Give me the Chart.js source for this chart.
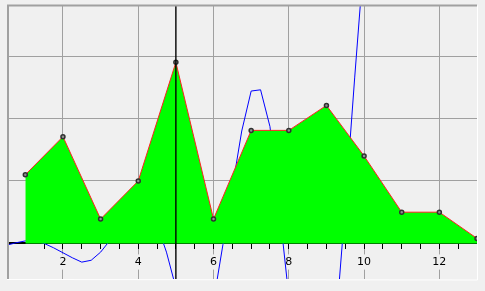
<!DOCTYPE html>
<html>
<head>
<meta charset="utf-8">
<script src="https://cdn.jsdelivr.net/npm/chart.js@4.4.0/dist/chart.umd.min.js"></script>
<style>
  html, body { margin: 0; padding: 0; background: #f0f0f0; }
</style>
</head>
<body>
<canvas id="mycanvas" width="485" height="291"></canvas>
<script>
// green series (one point per integer x)
var areaX = [1, 2, 3, 4, 5, 6, 7, 8, 9, 10, 11, 12, 13];
var areaY = [1.10, 1.71, 0.39, 1.0, 2.90, 0.39, 1.81, 1.81, 2.21, 1.40, 0.50, 0.50, 0.08];

// blue curve, every 0.25
var curveX = [0.5, 0.75, 1, 1.25, 1.5, 1.75, 2, 2.25, 2.5, 2.75, 3, 3.25, 3.5, 3.75, 4, 4.25, 4.5, 4.75,
              5, 5.25, 5.5, 5.75, 6, 6.25, 6.5, 6.75, 7, 7.25, 7.5, 7.75, 8, 8.25, 8.5, 8.75, 9, 9.25,
              9.5, 9.75, 10, 10.25];
var curveY = [-0.03, 0.01, 0.04, 0.04, 0.0, -0.07, -0.15, -0.23, -0.30, -0.27, -0.14, 0.05, 0.20, 0.32, 0.38, 0.35, 0.30, -0.14,
              -0.71, -1.3, -1.6, -1.5, -0.93, -0.02, 0.89, 1.80, 2.44, 2.46, 1.87, 0.55, -0.85, -2.0, -2.6, -2.8, -2.4, -1.3,
              0.6, 2.65, 4.6, 6.5];

// vertical cursor
var cursorX = 5;

var xTickLabels = [2, 4, 6, 8, 10, 12];
var yGridValues = [1, 2, 3];

function pts(xs, ys) {
  var out = [];
  for (var i in xs) {
    out.push({x: xs[i], y: ys[i]});
  }
  return out;
}

var frame = {
  id: 'frame',
  beforeDraw: function(chart) {
    var c = chart.ctx;
    c.save();
    c.fillStyle = '#f0f0f0';
    c.fillRect(0, 0, chart.width, chart.height);
    c.restore();
  },
  afterDraw: function(chart) {
    var c = chart.ctx, a = chart.chartArea;
    c.save();
    c.strokeStyle = '#ffffff';
    c.lineWidth = 1;
    c.beginPath();
    c.moveTo(a.right + 0.5, a.top);
    c.lineTo(a.right + 0.5, a.bottom + 1);
    c.lineTo(a.left - 1, a.bottom + 0.5);
    c.stroke();
    c.strokeStyle = '#a0a0a0';
    c.lineWidth = 2;
    c.beginPath();
    c.moveTo(a.left, a.bottom);
    c.lineTo(a.left, a.top);
    c.lineTo(a.right, a.top);
    c.stroke();
    c.restore();
  }
};

var ctx = document.getElementById('mycanvas');

var chart = new Chart(ctx, {
  type: 'line',
  data: {
    datasets: [
      {
        data: [{x: cursorX, y: -10}, {x: cursorX, y: 10}],
        borderColor: '#000000',
        borderWidth: 1.4,
        pointRadius: 0,
        fill: false
      },
      {
        data: pts(areaX, areaY),
        borderColor: '#ff2020',
        borderWidth: 1,
        backgroundColor: '#00ff00',
        fill: 'origin',
        tension: 0,
        pointRadius: 2,
        pointBorderWidth: 1.5,
        pointBorderColor: '#303030',
        pointBackgroundColor: '#909090'
      },
      {
        data: pts(curveX, curveY),
        borderColor: '#0000ff',
        borderWidth: 1,
        pointRadius: 0,
        fill: false,
        tension: 0
      }
    ]
  },
  options: {
    responsive: false,
    animation: false,
    devicePixelRatio: 1,
    layout: { padding: { left: 8, top: 3, right: 8, bottom: 12 } },
    plugins: { legend: { display: false }, tooltip: { enabled: false } },
    scales: {
      x: {
        type: 'linear',
        min: 0.54,
        max: 13.0,
        position: { y: 0 },
        border: { color: '#000000', width: 2 },
        grid: {
          color: function(c) { return xTickLabels.indexOf(c.tick.value) >= 0 ? '#a0a0a0' : 'rgba(0,0,0,0)'; },
          lineWidth: 1,
          tickColor: function(c) { return (c.tick.value * 2) % 1 === 0 && c.tick.value < 13 ? '#000000' : 'rgba(0,0,0,0)'; },
          tickLength: 5,
          tickWidth: 1
        },
        ticks: {
          stepSize: 0.5,
          autoSkip: false,
          maxRotation: 0,
          padding: 7,
          color: '#000000',
          font: { family: 'DejaVu Sans', size: 11 },
          showLabelBackdrop: true,
          backdropColor: '#f0f0f0',
          backdropPadding: 1,
          callback: function(v) { return xTickLabels.indexOf(v) >= 0 ? String(v) : ''; }
        }
      },
      y: {
        type: 'linear',
        min: -0.57,
        max: 3.81,
        border: { display: false },
        grid: {
          drawTicks: false,
          color: function(c) { return yGridValues.indexOf(c.tick.value) >= 0 ? '#a0a0a0' : 'rgba(0,0,0,0)'; }
        },
        ticks: { display: false, stepSize: 1 }
      }
    }
  },
  plugins: [frame]
});
</script>
</body>
</html>
